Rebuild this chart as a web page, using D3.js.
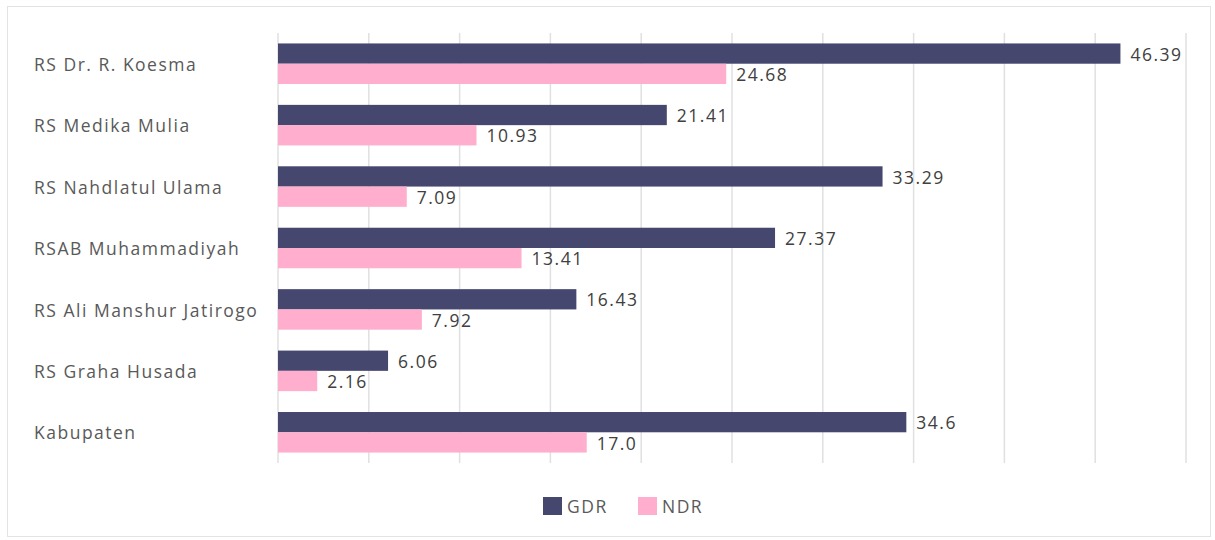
<!DOCTYPE html>
<html>
<head>
<meta charset="utf-8">
<script src="https://cdn.jsdelivr.net/npm/d3@7"></script>
<style>
  body { margin: 0; background: #fff; }
  svg text { font-family: "Open Sans", "Lato", sans-serif; letter-spacing: 1.5px; }
</style>
</head>
<body>
<svg id="chart" width="1215" height="540"></svg>
<script>
// data
var categories = ["RS Dr. R. Koesma", "RS Medika Mulia", "RS Nahdlatul Ulama",
                  "RSAB Muhammadiyah", "RS Ali Manshur Jatirogo", "RS Graha Husada", "Kabupaten"];
var gdrValues = [46.39, 21.41, 33.29, 27.37, 16.43, 6.06, 34.6];
var ndrValues = [24.68, 10.93, 7.09, 13.41, 7.92, 2.16, 17.0];
var gdrLabels = ["46.39", "21.41", "33.29", "27.37", "16.43", "6.06", "34.6"];
var ndrLabels = ["24.68", "10.93", "7.09", "13.41", "7.92", "2.16", "17.0"];
var seriesNames = ["GDR", "NDR"];
var xTicks = [0, 5, 10, 15, 20, 25, 30, 35, 40, 45, 50];

var colors = { GDR: "#46476f", NDR: "#ffaecd" };

var svg = d3.select("#chart");

// outer frame
svg.append("rect")
   .attr("x", 7.5).attr("y", 6.5)
   .attr("width", 1203).attr("height", 530)
   .attr("fill", "#fff")
   .attr("stroke", "#e3e3e3")
   .attr("stroke-width", 1);

var plot = { left: 278, right: 1186, top: 33, bottom: 463 };

var x = d3.scaleLinear().domain([0, 50]).range([plot.left, plot.right]);
var y = d3.scaleBand().domain(categories)
          .range([plot.top, plot.bottom])
          .paddingInner(0.34).paddingOuter(0.17);
var sub = d3.scaleBand().domain(seriesNames).range([0, y.bandwidth()]);

// vertical gridlines
svg.append("g").attr("class", "grid")
   .selectAll("line").data(xTicks).enter().append("line")
   .attr("x1", function(d) { return x(d); })
   .attr("x2", function(d) { return x(d); })
   .attr("y1", plot.top).attr("y2", plot.bottom)
   .attr("stroke", "#e0e0e0")
   .attr("stroke-width", 1.5);

// category labels
svg.append("g").attr("class", "cats")
   .selectAll("text").data(categories).enter().append("text")
   .attr("x", 34)
   .attr("y", function(d) { return y(d) + y.bandwidth() / 2 + 1; })
   .attr("dy", "0.35em")
   .attr("font-size", 17.5)
   .attr("fill", "#595959")
   .text(function(d) { return d; });

var series = [
  { name: "GDR", values: gdrValues, labels: gdrLabels },
  { name: "NDR", values: ndrValues, labels: ndrLabels }
];

series.forEach(function(s) {
  var g = svg.append("g").attr("class", "series-" + s.name);

  g.selectAll("rect").data(s.values).enter().append("rect")
   .attr("x", x(0))
   .attr("y", function(d, i) { return y(categories[i]) + sub(s.name); })
   .attr("width", function(d) { return x(d) - x(0); })
   .attr("height", sub.bandwidth())
   .attr("fill", colors[s.name]);

  g.selectAll("text").data(s.values).enter().append("text")
   .attr("x", function(d) { return x(d) + 10; })
   .attr("y", function(d, i) { return y(categories[i]) + sub(s.name) + sub.bandwidth() / 2 + 1; })
   .attr("dy", "0.35em")
   .attr("font-size", 17.5)
   .attr("fill", "#404040")
   .text(function(d, i) { return s.labels[i]; });
});

// legend
var legend = svg.append("g").attr("class", "legend");
var legendX = [543, 638];
seriesNames.forEach(function(name, i) {
  legend.append("rect")
        .attr("x", legendX[i]).attr("y", 497)
        .attr("width", 19).attr("height", 18)
        .attr("fill", colors[name]);
  legend.append("text")
        .attr("x", legendX[i] + 24).attr("y", 507)
        .attr("dy", "0.35em")
        .attr("font-size", 17.5)
        .attr("fill", "#595959")
        .text(name);
});
</script>
</body>
</html>
